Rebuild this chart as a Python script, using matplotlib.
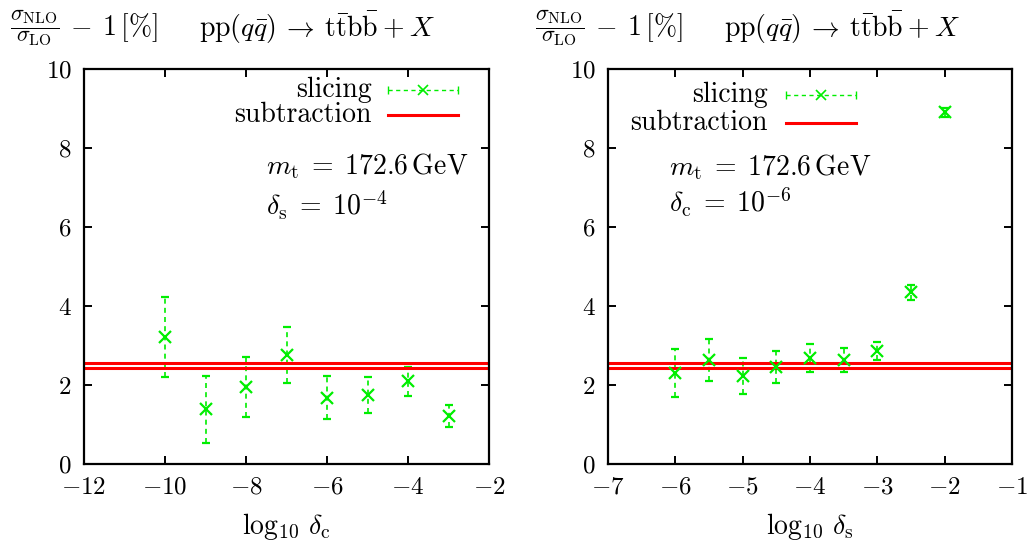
import numpy as np
import matplotlib
matplotlib.use("Agg")
import matplotlib.pyplot as plt

plt.rcParams.update({
    "font.family": "serif",
    "font.serif": ["cmr10", "DejaVu Serif"],
    "mathtext.fontset": "cm",
    "axes.formatter.use_mathtext": True,
    "font.size": 18,
    "axes.linewidth": 1.6,
    "xtick.direction": "in",
    "ytick.direction": "in",
    "xtick.top": True,
    "ytick.right": True,
    "xtick.major.size": 6,
    "ytick.major.size": 6,
    "xtick.major.width": 1.4,
    "ytick.major.width": 1.4,
    "xtick.major.pad": 9,
    "ytick.major.pad": 9,
})

GREEN = "#00ee00"
RED = "#ff0000"
TXT = 20

# left panel: scan in log10(delta_c) at delta_s = 1e-4
log_dc = [-10, -9, -8, -7, -6, -5, -4, -3]
slice_c = [3.21, 1.38, 1.94, 2.76, 1.68, 1.74, 2.09, 1.22]
slice_c_err = [1.01, 0.86, 0.76, 0.70, 0.54, 0.45, 0.36, 0.28]

# right panel: scan in log10(delta_s) at delta_c = 1e-6
log_ds = [-6, -5.5, -5, -4.5, -4, -3.5, -3, -2.5, -2]
slice_s = [2.30, 2.63, 2.23, 2.45, 2.68, 2.63, 2.87, 4.35, 8.90]
slice_s_err = [0.60, 0.54, 0.45, 0.40, 0.35, 0.30, 0.23, 0.19, 0.12]

# subtraction result with its integration error
subtraction = 2.49
subtraction_err = 0.06

RATIO = r"$\dfrac{\sigma_{\rm NLO}}{\sigma_{\rm LO}}$"
RATIO_TAIL = r"$-\;\,1\,[\%]$"
PROCESS = (r"$\mathrm{pp}(q\bar{q})\:\to\:\mathrm{t}\bar{\mathrm{t}}"
           r"\mathrm{b}\bar{\mathrm{b}}\:+\:X$")

fig = plt.figure(figsize=(10.28, 5.43), dpi=100)
ax1 = fig.add_axes([84 / 1028, 79 / 543, 405 / 1028, 395 / 543])
ax2 = fig.add_axes([608 / 1028, 79 / 543, 404 / 1028, 395 / 543])


def draw_panel(ax, x, y, yerr, xlim, xticks, xlabel, note, key):
    eb = ax.errorbar(x, y, yerr=yerr, fmt="x", color=GREEN, ms=9, mew=1.6,
                     elinewidth=1.2, capsize=3, capthick=1.2)
    for coll in eb.lines[2]:
        coll.set_linestyle((0, (3, 2.5)))
    for v in (subtraction - subtraction_err, subtraction + subtraction_err):
        ax.axhline(v, color=RED, lw=2.2)
    ax.set_xlim(*xlim)
    ax.set_ylim(0, 10)
    ax.set_xticks(xticks)
    ax.set_yticks(np.arange(0, 11, 2))
    ax.set_xlabel(xlabel, labelpad=9, fontsize=TXT)

    # gnuplot-style key: right-aligned text, sample to its right
    x_txt, x0, x1, y_sl, y_sub = key
    tr = ax.transAxes
    ax.text(x_txt, y_sl, "slicing", transform=tr, ha="right", va="center",
            fontsize=TXT)
    ax.text(x_txt, y_sub, "subtraction", transform=tr, ha="right",
            va="center", fontsize=TXT)
    ax.plot([x0, x1], [y_sl, y_sl], transform=tr, color=GREEN,
            lw=1.0, ls=(0, (3, 2.5)), clip_on=False)
    ax.plot([(x0 + x1) / 2], [y_sl], transform=tr, color=GREEN,
            marker="x", ms=7, mew=1.2, clip_on=False)
    ax.plot([x0, x1], [y_sl, y_sl], transform=tr, color=GREEN,
            marker="|", ms=6, mew=1.0, ls="none", clip_on=False)
    ax.plot([x0, x1], [y_sub, y_sub], transform=tr, color=RED,
            lw=2.2, clip_on=False)

    x_note, y_m, y_d, delta_txt = note
    ax.text(x_note, y_m, r"$m_{\rm t}\;=\;172.6\,\mathrm{GeV}$",
            transform=tr, ha="left", va="center", fontsize=TXT)
    ax.text(x_note, y_d, delta_txt, transform=tr, ha="left", va="center",
            fontsize=TXT)


draw_panel(ax1, log_dc, slice_c, slice_c_err, (-12, -2),
           np.arange(-12, -1, 2), r"$\log_{10}\,\delta_{\rm c}$",
           (0.45, 0.754, 0.656, r"$\delta_{\rm s}\;=\;10^{-4}$"),
           ((372 - 84) / 405, (388 - 84) / 405, (458 - 84) / 405, 0.947, 0.884))
draw_panel(ax2, log_ds, slice_s, slice_s_err, (-7, -1),
           np.arange(-7, 0, 1), r"$\log_{10}\,\delta_{\rm s}$",
           (0.15, 0.752, 0.663, r"$\delta_{\rm c}\;=\;10^{-6}$"),
           ((768 - 608) / 404, (786 - 608) / 404, (856 - 608) / 404, 0.934, 0.863))

# panel headings: y-quantity on the left, process on the right
y_head = 1 - 28 / 543
for x_off in (0, 525):
    fig.text((10 + x_off) / 1028, y_head, RATIO, ha="left", va="center",
             fontsize=16)
    fig.text((70 + x_off) / 1028, y_head, RATIO_TAIL, ha="left",
             va="center", fontsize=TXT)
    fig.text((199 + x_off) / 1028, y_head, PROCESS, ha="left", va="center",
             fontsize=TXT)

fig.savefig("out.png", dpi=100)
